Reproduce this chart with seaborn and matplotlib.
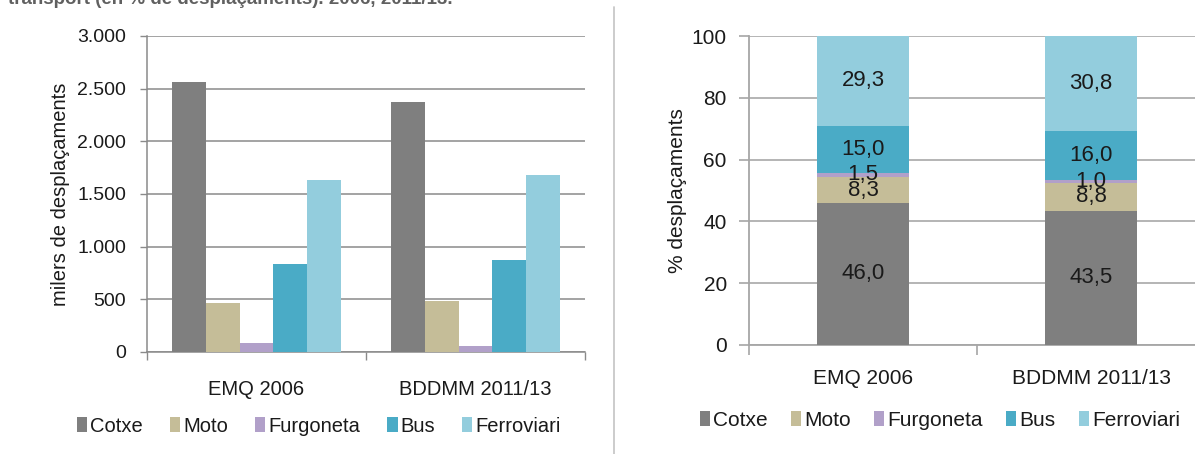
import matplotlib
matplotlib.use("Agg")
import matplotlib.pyplot as plt
from matplotlib.lines import Line2D
from matplotlib.patches import Patch
from matplotlib.ticker import FuncFormatter, FixedLocator
import seaborn as sns
import pandas as pd

# ---- data -------------------------------------------------------------
surveys = ["EMQ 2006", "BDDMM 2011/13"]
modes = ["Cotxe", "Moto", "Furgoneta", "Bus", "Ferroviari"]

# thousands of trips per mode
trips_emq2006 = [2565, 463, 84, 837, 1634]
trips_bddmm2011 = [2374, 480, 55, 873, 1681]

# share of trips (%) per mode
share_emq2006 = [46.0, 8.3, 1.5, 15.0, 29.3]
share_bddmm2011 = [43.5, 8.8, 1.0, 16.0, 30.8]

colors = ["#7f7f7f", "#c5bd98", "#b1a0c9", "#4aabc6", "#93cddd"]

title_text = "transport (en % de desplaçaments). 2006, 2011/13."

# ---- style ------------------------------------------------------------
sns.set_theme(style="white")
plt.rcParams["font.family"] = ["Liberation Sans", "DejaVu Sans"]
txt = "#1a1a1a"

W, H = 1195, 454
fig = plt.figure(figsize=(W / 100, H / 100), dpi=100)
fig.patch.set_facecolor("white")


def fx(px):
    return px / W


def fy(py):
    return 1 - py / H


# ---- left panel: absolute trips, grouped bars --------------------------
ax1 = fig.add_axes([fx(147), fy(352), fx(585 - 147), (352 - 36) / H])
df_abs = pd.DataFrame({
    "survey": [s for s in surveys for _ in modes],
    "mode": modes * 2,
    "trips": trips_emq2006 + trips_bddmm2011,
})
sns.barplot(data=df_abs, x="survey", y="trips", hue="mode", order=surveys,
            hue_order=modes, palette=colors, width=0.77, saturation=1,
            linewidth=0, legend=False, ax=ax1, zorder=3)
ax1.set_xlim(-0.5, 1.5)
ax1.set_ylim(0, 3000)
ax1.set_yticks(range(0, 3001, 500))
ax1.yaxis.set_major_formatter(FuncFormatter(lambda v, p: f"{int(v):,}".replace(",", ".")))
ax1.grid(axis="y", color="#8a8a8a", lw=1.1, zorder=0)
ax1.set_axisbelow(True)
for s in ["top", "right"]:
    ax1.spines[s].set_visible(False)
for s in ["left", "bottom"]:
    ax1.spines[s].set_color("#8a8a8a")
    ax1.spines[s].set_linewidth(1.1)
ax1.tick_params(axis="y", direction="out", length=5, width=1, color="#8a8a8a",
                pad=10, labelsize=14, labelcolor=txt, left=True)
ax1.xaxis.set_minor_locator(FixedLocator([-0.5, 0.5, 1.5]))
ax1.tick_params(axis="x", which="minor", direction="out", length=6, width=1,
                color="#8a8a8a", bottom=True)
ax1.tick_params(axis="x", which="major", length=0, pad=20, labelsize=14.5,
                labelcolor=txt)
ax1.set_xlabel("")
ax1.set_ylabel("milers de desplaçaments", fontsize=14.5, color=txt)
ax1.yaxis.set_label_coords(-0.176, 0.5)

handles = [Patch(facecolor=c, edgecolor="none", label=m) for c, m in zip(colors, modes)]
fig.legend(handles=handles, loc="center", bbox_to_anchor=(fx(319), fy(426)),
           ncol=5, frameon=False, fontsize=14.5, handlelength=0.5,
           handleheight=0.7, handletextpad=0.15, columnspacing=1.35,
           labelcolor=txt)

# ---- right panel: shares, stacked bars --------------------------------
ax2 = fig.add_axes([fx(749), fy(345), fx(1205 - 749), (345 - 36) / H])
shares = [share_emq2006, share_bddmm2011]
# draw stacked segments from the top of the stack down
for i in range(len(modes) - 1, -1, -1):
    tops = [sum(s[: i + 1]) for s in shares]
    sns.barplot(x=surveys, y=tops, color=colors[i], width=0.4, saturation=1,
                linewidth=0, ax=ax2, zorder=3)
for j, s in enumerate(shares):
    base = 0
    for v in s:
        ax2.text(j, base + v / 2, f"{v:.1f}".replace(".", ","), ha="center",
                 va="center", fontsize=16, color=txt, zorder=5)
        base += v
ax2.set_xlim(-0.5, 1.5)
ax2.set_ylim(0, 100)
ax2.set_yticks(range(0, 101, 20))
ax2.grid(axis="y", color="#b4b4b4", lw=1.4, zorder=0)
ax2.set_axisbelow(True)
for s in ["top", "right"]:
    ax2.spines[s].set_visible(False)
for s in ["left", "bottom"]:
    ax2.spines[s].set_color("#a6a6a6")
    ax2.spines[s].set_linewidth(1.3)
ax2.tick_params(axis="y", direction="out", length=7, width=1.2, color="#a6a6a6",
                pad=9, labelsize=15, labelcolor=txt, left=True)
ax2.xaxis.set_minor_locator(FixedLocator([-0.5, 0.5, 1.5]))
ax2.tick_params(axis="x", which="minor", direction="out", length=7, width=1.2,
                color="#a6a6a6", bottom=True)
ax2.tick_params(axis="x", which="major", length=0, pad=17, labelsize=15,
                labelcolor=txt)
ax2.set_xlabel("")
ax2.set_ylabel("% desplaçaments", fontsize=15, color=txt)
ax2.yaxis.set_label_coords(-0.135, 0.5)

fig.legend(handles=handles, loc="center", bbox_to_anchor=(fx(940), fy(420)),
           ncol=5, frameon=False, fontsize=15, handlelength=0.5,
           handleheight=0.7, handletextpad=0.15, columnspacing=1.1,
           labelcolor=txt)

# ---- separator and heading ---------------------------------------------
fig.add_artist(Line2D([fx(614), fx(614)], [0, fy(7)], color="#c8c8c8", lw=1.3))
fig.text(fx(8), fy(4), title_text, ha="left", va="baseline", fontsize=13.5,
         fontweight="bold", color="#606060")

fig.savefig("out.png", dpi=100, facecolor="white")
